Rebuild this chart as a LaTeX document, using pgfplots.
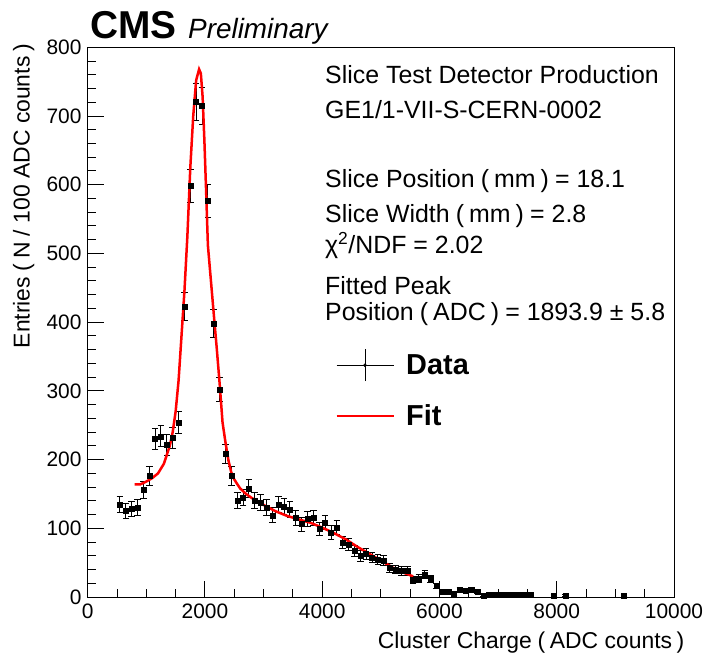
\documentclass[border=0pt]{standalone}
\usepackage{fontspec}
\setmainfont{Liberation Sans}
\usepackage{pgfplots}
\pgfplotsset{compat=1.18}
\usepackage{pgfplotstable}

\pgfplotstableread{
x y ey
550 134 11.6
650 125 11.2
750 128 11.3
850 130 11.4
950 156 12.5
1050 176 13.3
1150 230 15.2
1250 234 15.3
1350 221 14.9
1450 232 15.2
1550 254 15.9
1650 423 20.6
1750 598 24.5
1850 721 26.9
1950 715 26.7
2050 577 24.0
2150 398 19.9
2250 302 17.4
2350 208 14.4
2450 176 13.3
2550 140 11.8
2650 145 12.0
2750 158 12.6
2850 140 11.8
2950 137 11.7
3050 130 11.4
3150 119 10.9
3250 135 11.6
3350 132 11.5
3450 127 11.3
3550 115 10.7
3650 106 10.3
3750 114 10.7
3850 115 10.7
3950 99 9.9
4050 108 10.4
4150 94 9.7
4250 101 10.0
4350 79 8.9
4450 76 8.7
4550 67 8.2
4650 60 7.7
4750 63 7.9
4850 57 7.5
4950 54 7.3
5050 53 7.3
5150 42 6.5
5250 40 6.3
5350 38 6.2
5450 38 6.2
5550 25 5.0
5650 27 5.2
5750 33 5.7
5850 26 5.1
5950 16 4.0
6050 8 2.8
6150 7 2.6
6250 5 2.2
6350 10 3.2
6450 9 3.0
6550 10 3.2
6650 7 2.6
6750 2 1.4
6850 4 2.0
6950 3 1.7
7050 4 2.0
7150 3 1.7
7250 3 1.7
7350 3 1.7
7450 3 1.7
7550 4 2.0
7950 2 1.4
8150 2 1.4
9150 2 1.4
}\datatable

\pgfplotstableread{
x y
800 164
900 164
1000 168
1100 173
1200 180
1300 194
1400 220
1450 240
1500 270
1550 315
1600 380
1650 445
1700 525
1750 625
1800 700
1850 752
1900 768
1930 762
1960 728
1990 665
2020 590
2050 512
2100 462
2150 412
2200 363
2250 311
2300 254
2350 225
2400 199
2450 181
2500 171
2600 158
2700 150
2800 144
3000 134
3200 125
3400 118
3600 113
3800 108
4000 101
4200 93
4400 84
4600 73
4800 63
5000 53
5200 43
5400 35
5550 30
}\fittable

\newcommand{\lp}{\hspace{0.25em}(\hspace{0.2em}}
\newcommand{\rp}{\hspace{0.2em})\hspace{0.25em}}

\begin{document}
\begin{tikzpicture}
\begin{axis}[name=ax, scale only axis, width=586.3bp, height=549.7bp,
  clip=false,
  xmin=0, xmax=10000, ymin=0, ymax=800,
  xtick={0,2000,4000,6000,8000,10000}, ytick={0,100,...,800},
  minor x tick num=3, minor y tick num=4,
  tick align=inside, xtick pos=bottom, ytick pos=left,
  major tick length=16bp, minor tick length=8bp,
  axis line style={line width=1bp}, every tick/.style={black, line width=1bp},
  scaled x ticks=false, scaled y ticks=false,
  /pgf/number format/1000 sep={},
  /pgf/number format/assume math mode=true,
  tick label style={font=\fontsize{21}{21}\selectfont, inner sep=0pt},
  xticklabel style={anchor=north, yshift=-7bp},
  yticklabel style={anchor=east, xshift=-6bp},
  xlabel={Cluster Charge\lp ADC counts\rp},
  ylabel={Entries\lp N / 100 ADC counts\rp},
  every axis x label/.style={at={(axis description cs:1.018,0)}, anchor=base east, yshift=-51bp, font=\fontsize{23}{23}\selectfont, inner sep=0pt},
  every axis y label/.style={at={(axis description cs:-0.099,1.006)}, rotate=90, anchor=base east, font=\fontsize{23}{23}\selectfont, inner sep=0pt},
  legend cell align=left,
  legend style={draw=none, fill=none, at={(axis description cs:0.423,0.452)}, anchor=north west,
    font=\bfseries\fontsize{29}{29}\selectfont, row sep=23bp, inner sep=0pt,
    nodes={inner sep=0pt}},
  /tikz/every odd column/.append style={column sep=12bp},
]
\addplot[black, only marks, mark=square*, mark size=2.5bp,
  error bars/.cd, y dir=both, y explicit,
  error bar style={line width=1bp, black},
  error mark options={rotate=90, black, mark size=3.3bp, line width=1bp},
  /pgfplots/legend image code/.code={
  \draw[black, line width=1bp] (0bp,0bp) -- (57bp,0bp);
  \draw[black, line width=1bp] (28.5bp,-16bp) -- (28.5bp,16bp);
  \fill[black] (28.5bp,0bp) circle (1.6bp);}]
  table[x=x, y=y, y error=ey] {\datatable};
\addlegendentry{Data}
\addplot[red, line width=2.5bp, no marks,
  legend image code/.code={\draw[red, line width=1.3bp] (0bp,0bp) -- (57bp,0bp);}]
  table[x=x, y=y] {\fittable};
\addlegendentry{Fit}

\node[anchor=base west, font=\fontsize{25}{25}\selectfont, inner sep=0pt] at (axis description cs:0.4047,0.9334) {Slice Test Detector Production};
\node[anchor=base west, font=\fontsize{25}{25}\selectfont, inner sep=0pt] at (axis description cs:0.4047,0.8708) {GE1/1-VII-S-CERN-0002};
\node[anchor=base west, font=\fontsize{25}{25}\selectfont, inner sep=0pt] at (axis description cs:0.4047,0.7453) {Slice Position\lp mm\rp = 18.1};
\node[anchor=base west, font=\fontsize{25}{25}\selectfont, inner sep=0pt] at (axis description cs:0.4047,0.6816) {Slice Width\lp mm\rp = 2.8};
\node[anchor=base west, font=\fontsize{25}{25}\selectfont, inner sep=0pt] at (axis description cs:0.4047,0.6240) {χ\textsuperscript{2}/NDF = 2.02};
\node[anchor=base west, font=\fontsize{25}{25}\selectfont, inner sep=0pt] at (axis description cs:0.4047,0.5494) {Fitted Peak};
\node[anchor=base west, font=\fontsize{25}{25}\selectfont, inner sep=0pt] at (axis description cs:0.4047,0.5026) {Position\lp ADC\rp = 1893.9 ± 5.8};
\node[anchor=base west, font=\bfseries\fontsize{39}{39}\selectfont, inner sep=0pt] at (axis description cs:0.004,1.0169) {CMS};
\node[anchor=base west, font=\itshape\fontsize{28}{28}\selectfont, inner sep=0pt] at (axis description cs:0.171,1.0169) {Preliminary};
\end{axis}
\pgfresetboundingbox
\path ([shift={(-87.7bp,-57bp)}]ax.south west) rectangle ([shift={(33bp,47.3bp)}]ax.north east);
\end{tikzpicture}
\end{document}
